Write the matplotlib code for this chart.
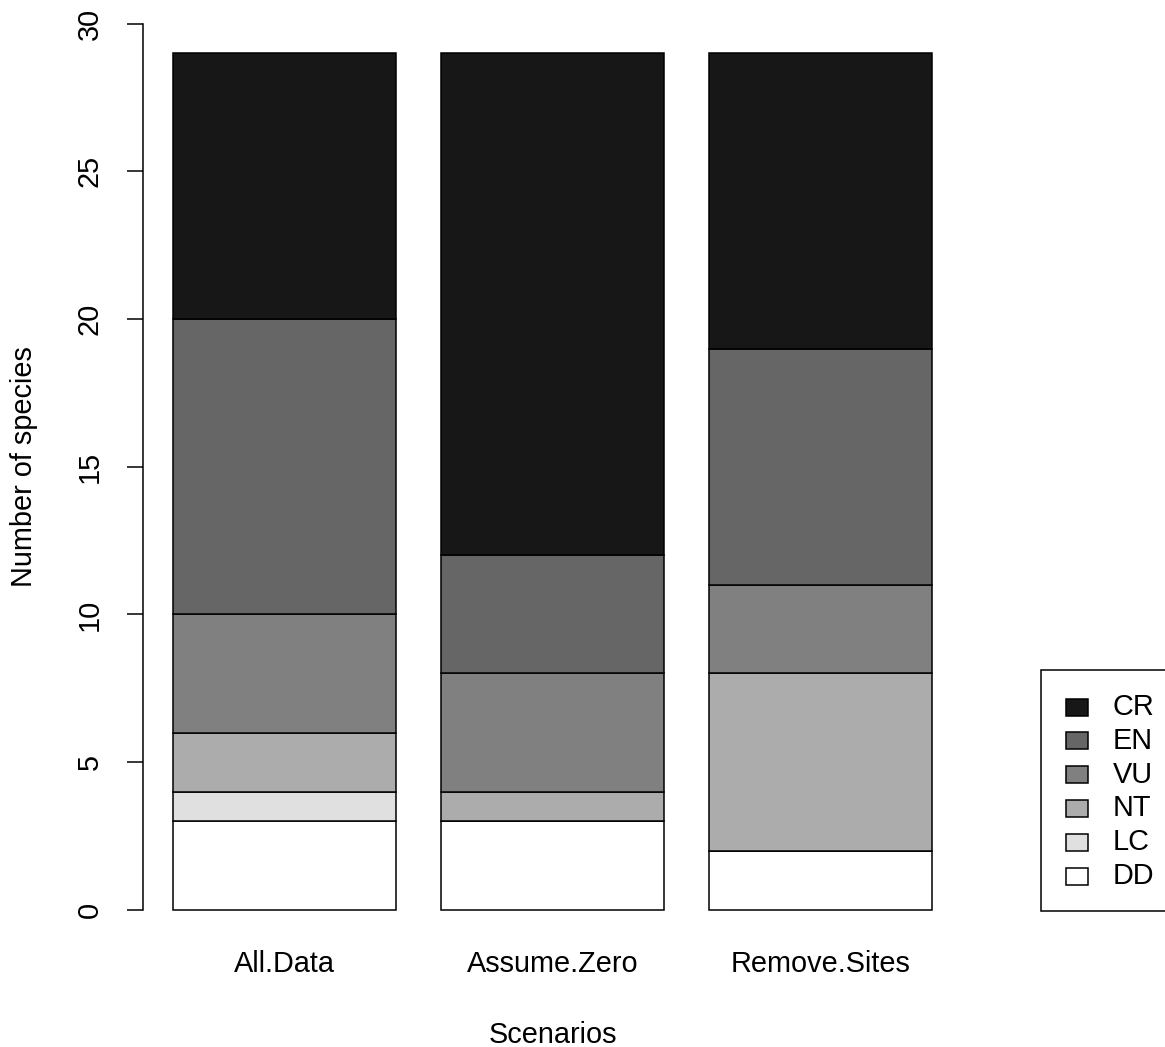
import matplotlib
matplotlib.use("Agg")
import matplotlib.pyplot as plt
import numpy as np
from matplotlib.patches import Rectangle

plt.rcParams['font.family'] = ['Liberation Sans', 'DejaVu Sans']

scenarios = ['All.Data', 'Assume.Zero', 'Remove.Sites']
status = ['DD', 'LC', 'NT', 'VU', 'EN', 'CR']  # bottom -> top
dd = [3, 3, 2]
lc = [1, 0, 0]
nt = [2, 1, 6]
vu = [4, 4, 3]
en = [10, 4, 8]
cr = [9, 17, 10]
colours = ['#ffffff', '#e0e0e0', '#acacac', '#808080', '#666666', '#171717']

W, H = 1165, 1047
fs = 20.8
fig = plt.figure(figsize=(W / 100, H / 100), dpi=100)
ax = fig.add_axes([143 / W, (H - 944) / H, 819 / W, 925 / H])

# R barplot style positions: width 1, space 0.2
x = 0.2 + np.arange(len(scenarios)) * 1.2 + 0.5
bottom = np.zeros(len(scenarios))
for vals, c in zip([dd, lc, nt, vu, en, cr], colours):
    vals = np.array(vals)
    ax.bar(x, vals, width=1.0, bottom=bottom, color=c, edgecolor='black', linewidth=1.1)
    bottom += vals

ax.set_xlim(0.064, 3.736)
ax.set_ylim(-1.16, 30.16)

for s in ['top', 'right', 'bottom']:
    ax.spines[s].set_visible(False)
ax.spines['left'].set_bounds(0, 30)
ax.spines['left'].set_linewidth(1.1)

ax.set_yticks(np.arange(0, 31, 5))
ax.tick_params(axis='y', length=11.5, width=1.1, pad=17, labelsize=fs, labelrotation=90)
for lab in ax.get_yticklabels():
    lab.set_va('center')
ax.set_xticks(x)
ax.set_xticklabels(scenarios)
ax.tick_params(axis='x', length=0, pad=4, labelsize=fs)

ax.set_xlabel('Scenarios', fontsize=fs, va='center')
ax.xaxis.set_label_coords(0.5, (944 - 1035) / 925)
ax.set_ylabel('Number of species', fontsize=fs, va='center')
ax.yaxis.set_label_coords((24 - 143) / 819, (944 - 467) / 925)

# legend box, drawn like R's legend()
fig.patches.append(Rectangle((1041 / W, (H - 911) / H), 150 / W, 241 / H,
                             transform=fig.transFigure, facecolor='white',
                             edgecolor='black', linewidth=1.1, clip_on=False))
for i, (lab, c) in enumerate(zip(status[::-1], colours[::-1])):
    yc = 707 + i * 33.8
    fig.patches.append(Rectangle((1066 / W, (H - yc - 8.5) / H), 22 / W, 17 / H,
                                 transform=fig.transFigure, facecolor=c,
                                 edgecolor='black', linewidth=1.1))
    fig.text(1113 / W, (H - yc) / H, lab, fontsize=fs, va='center', ha='left')

fig.savefig('out.png', dpi=100)
